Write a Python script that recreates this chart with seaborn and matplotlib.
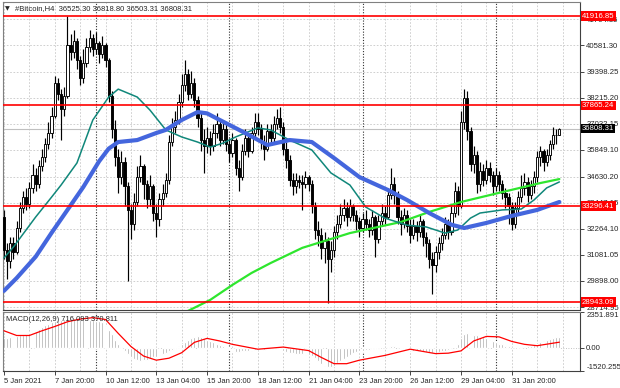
import numpy as np
import pandas as pd
import matplotlib
matplotlib.use('Agg')
import matplotlib.pyplot as plt
import seaborn as sns

# --- datos de las velas (H4, indice 0 = 5 Jan 04:00) ---
first_open = 32800
close = [31300, 30800, 31600, 31200, 32300, 33200, 33700, 33400, 34100, 34700,
         34300, 35100, 35500, 36100, 36600, 37400, 38900, 38400, 37700, 38300,
         40600, 40300, 40800, 39900, 39100, 39800, 40500, 40900, 40400, 40700,
         40200, 40600, 39900, 38300, 36800, 35500, 34600, 35300, 34200, 33100,
         32500, 33500, 34600, 35100, 34300, 33600, 34200, 33000, 32700, 33600,
         33900, 34500, 36200, 36900, 37200, 38000, 38800, 39300, 38400, 38900,
         38100, 37300, 36300, 36000, 36400, 36000, 36600, 37000, 36300, 36800,
         36100, 35700, 36300, 35000, 34600, 35800, 36400, 35800, 36600, 37100,
         36800, 36200, 35900, 36700, 36400, 37000, 37300, 36900, 35900, 35400,
         34500, 34200, 34500, 34400, 34300, 34600, 34300, 33300, 32200, 32000,
         31400, 31700, 30900, 31300, 32100, 32500, 32900, 33200, 32800, 33300,
         32900, 32600, 32300, 32700, 32500, 32200, 32800, 31800, 32600, 33000,
         32800, 33800, 34300, 33800, 32800, 32500, 32900, 32400, 32000, 32400,
         32100, 32600, 31900, 31600, 30900, 30600, 31200, 31600, 32000, 32500,
         32100, 33000, 34000, 33300, 37100, 38200, 36700, 35200, 35600, 34300,
         34900, 34500, 35000, 34700, 34200, 34700, 34300, 33900, 33700, 33300,
         32500, 33200, 33700, 34100, 34400, 33800, 34200, 34600, 35500, 35800,
         35300, 35600, 36100, 36500, 36525.30, 36808.31]
high = [33100, 31600, 31900, 31900, 32600, 33500, 34000, 34100, 34400, 35200,
        35000, 35400, 35900, 36400, 37100, 37800, 39200, 39100, 38600, 38700,
        41900, 41100, 41300, 40900, 40100, 40400, 40900, 41300, 41100, 41200,
        40800, 41000, 40700, 40000, 38500, 37200, 35900, 35800, 35500, 34400,
        33400, 33900, 35100, 35600, 35200, 34500, 34700, 34300, 33400, 33900,
        34300, 34800, 36500, 37300, 37600, 38400, 39300, 39900, 39500, 39400,
        39100, 38300, 37500, 36800, 36900, 36700, 37000, 37500, 37200, 37200,
        37000, 36400, 36600, 36400, 35400, 36100, 36800, 36600, 36900, 37500,
        37500, 37000, 36500, 37000, 37000, 37400, 37700, 37800, 37100, 36200,
        35600, 34800, 34800, 34700, 34700, 34900, 34700, 34500, 33500, 32600,
        32300, 32100, 31900, 31700, 32400, 32900, 33400, 33600, 33500, 33600,
        33400, 33100, 32800, 33000, 33100, 32700, 33100, 32900, 32900, 33400,
        33300, 34100, 35000, 34600, 34000, 33100, 33200, 33100, 32700, 32700,
        32600, 32900, 32700, 32100, 31800, 31200, 31500, 31900, 32300, 32800,
        32700, 33300, 34400, 34200, 37600, 38600, 38500, 36900, 36000, 35800,
        35300, 35200, 35400, 35300, 34900, 35000, 34900, 34500, 34100, 33900,
        33500, 33500, 34000, 34700, 34800, 34600, 34500, 34900, 35800, 36000,
        35900, 35900, 36300, 36900, 36800, 36818.80]
low = [30900, 30000, 30500, 30900, 31100, 32100, 33000, 33100, 33200, 33900,
       34000, 34100, 34900, 35300, 35900, 36400, 37300, 38100, 36300, 37400,
       38200, 39900, 40000, 39500, 38800, 38900, 39600, 40300, 40100, 40200,
       39800, 40000, 39600, 38000, 36400, 35100, 33900, 34300, 33300, 29900,
       31800, 32200, 33300, 34400, 33600, 33200, 33300, 32600, 31900, 32400,
       33300, 33700, 34300, 36000, 36600, 37000, 37800, 38500, 38100, 38200,
       37800, 36900, 35800, 34800, 35700, 35600, 35800, 36400, 36000, 36100,
       35800, 35300, 35500, 34700, 34000, 34500, 35600, 35500, 35700, 36400,
       36500, 35900, 35400, 35800, 36100, 36200, 36800, 36600, 35600, 35000,
       34200, 33800, 33900, 34100, 33100, 34100, 34000, 33000, 31800, 31500,
       30900, 30700, 28900, 30300, 31000, 31800, 32300, 32600, 32400, 32600,
       32600, 32200, 31900, 32100, 32200, 31900, 32000, 31000, 31600, 32400,
       32500, 32700, 33600, 33400, 32500, 32000, 32300, 32100, 31600, 31800,
       31700, 31900, 31500, 31000, 30500, 29300, 30300, 30900, 31300, 31800,
       31800, 32000, 32800, 32900, 33200, 36800, 36300, 34900, 34800, 33900,
       34000, 34200, 34300, 34400, 33800, 34000, 34000, 33600, 33200, 32500,
       32200, 32300, 33000, 33500, 33800, 33500, 33600, 33900, 34400, 35100,
       34900, 35100, 35400, 35900, 36100, 36503.31]

# medias moviles
ma_blue_idx = [0, 4, 10, 15, 20, 25, 30, 33, 36, 42, 48, 51, 56, 61, 64, 68, 76,
               83, 90, 97, 104, 112, 121, 127, 134, 141, 145, 152, 160, 168, 175]
ma_blue = [29450, 30030, 31000, 32080, 33120, 34160, 35330, 35900, 36200, 36290,
           36610, 36750, 37200, 37560, 37500, 37200, 36610, 36065, 36290, 36200,
           35475, 34610, 34024, 33571, 32980, 32450, 32300, 32530, 32850, 33120,
           33480]
ma_teal_idx = [0, 3, 10, 15, 18, 23, 28, 33, 36, 42, 46, 51, 56, 61, 65, 69, 73,
               80, 84, 90, 97, 103, 109, 114, 120, 127, 133, 139, 143, 147, 150,
               157, 163, 167, 171, 175]
ma_teal = [30940, 31440, 32800, 33700, 34250, 35250, 37200, 38240, 38600, 38240,
           37650, 36750, 36430, 36200, 35970, 36150, 36430, 36840, 36750, 36290,
           35840, 34800, 34250, 33250, 32750, 32430, 32350, 32070, 32210, 32750,
           32980, 33120, 33160, 33570, 34120, 34390]
ma_green_idx = [58, 65, 72, 78, 84, 94, 109, 125, 134, 144, 157, 169, 175]
ma_green = [28540, 29040, 29720, 30260, 30710, 31400, 32070, 32570, 33030, 33480,
            33930, 34340, 34520]

# MACD
macd_main = [630, 630, 680, 720, 770, 810, 860, 900, 950, 990,
             1130, 1260, 1350, 1490, 1580, 1670, 1760, 1800, 1850, 1890,
             1940, 1980, 1980, 1940, 1980, 1940, 1890, 1850, 1800, 1760,
             1760, 1670, 1440, 1170, 900, 540, 270, 50, -180, -400,
             -590, -720, -810, -860, -810, -770, -720, -630, -590, -500,
             -400, -320, -230, -140, -50, 90, 230, 360, 500, 630,
             720, 770, 720, 630, 540, 450, 360, 270, 180, 90,
             0, -90, -180, -270, -270, -230, -230, -180, -180, -140,
             -90, -90, -140, -90, -90, -50, -50, -90, -180, -270,
             -320, -360, -400, -400, -400, -450, -450, -540, -680, -860,
             -1040, -1170, -1260, -1260, -1170, -990, -860, -720, -590, -450,
             -360, -270, -230, -180, -140, -140, -90, -90, -50, 0,
             0, 50, 90, 90, 50, 0, -50, -90, -140, -180,
             -180, -230, -270, -270, -320, -360, -320, -270, -230, -180,
             -140, -90, 0, 270, 630, 900, 950, 900, 860, 810,
             720, 680, 630, 540, 450, 360, 270, 230, 140, 90,
             0, 0, 0, 50, 50, 90, 90, 180, 270, 360,
             430, 500, 560, 620, 680, 716]
signal_idx = [0, 4, 8, 12, 16, 20, 24, 28, 32, 36, 40, 44, 48, 52, 56, 60, 64, 68,
              72, 80, 88, 96, 100, 104, 108, 112, 120, 128, 136, 140, 144, 148,
              152, 156, 160, 164, 168, 175]
signal = [1120, 810, 810, 1120, 1400, 1710, 1890, 1980, 1860, 950, 90, -540, -810,
          -680, -320, 360, 620, 450, 230, -90, 50, -180, -630, -1040, -1040, -810,
          -500, -90, -380, -350, -200, 450, 750, 720, 420, 230, 140, 371]

levels = [41916.85, 37865.24, 33296.41, 28943.09]
last_price = 36808.31
price_ticks = [28714.95, 29898.00, 31081.05, 32264.10, 33447.15, 34630.20,
               35849.10, 37032.15, 38215.20, 39398.25, 40581.30, 41764.35]
date_idx = [0, 16, 32, 48, 64, 80, 96, 112, 128, 144, 160]
date_labels = ['5 Jan 2021', '7 Jan 20:00', '10 Jan 12:00', '13 Jan 04:00',
               '15 Jan 20:00', '18 Jan 12:00', '21 Jan 04:00', '23 Jan 20:00',
               '26 Jan 12:00', '29 Jan 04:00', '31 Jan 20:00']
week_idx = [29, 71, 113, 155]
macd_ticks = [2351.891, 0, -1520.255]
macd_labels = ['2351.891', '0.00', '-1520.255']

sns.set_style('white')
plt.rcParams['font.family'] = ['Liberation Sans', 'DejaVu Sans']
fs = 5.5      # textos generales
fs_r = 5.6    # etiquetas de precio a la derecha

df = pd.DataFrame({'close': close, 'high': high, 'low': low})
df['idx'] = np.arange(len(df))
df['open'] = [first_open] + close[:-1]

fig = plt.figure(figsize=(6.2, 3.88), dpi=100)
ax1 = fig.add_axes([3 / 620, 1 - 310 / 388, 577 / 620, 308 / 388])
ax2 = fig.add_axes([3 / 620, 1 - 371 / 388, 577 / 620, 59 / 388])

xmin, xmax = -0.3, 181.5
grid_kw = dict(color='#c8c8c8', lw=0.6, ls=(0, (2, 2)), zorder=0)
sep_kw = dict(color='#303030', lw=0.8, ls=(0, (1, 1.5)), zorder=0.5)

# --- panel principal ---
for t in price_ticks:
    ax1.axhline(t, **grid_kw)
for ax in (ax1, ax2):
    for v in range(0, 182, 8):
        ax.axvline(v, **grid_kw)
    for w in week_idx:
        ax.axvline(w, **sep_kw)

ax1.axhline(last_price, color='#c0c0c0', lw=0.8, zorder=1)

ax1.vlines(df['idx'], df['low'], df['high'], color='black', lw=0.85, zorder=2)
bull = df[df['close'] >= df['open']]
bear = df[df['close'] < df['open']]
ax1.bar(bull['idx'], (bull['close'] - bull['open']).clip(lower=40), bottom=bull['open'],
        width=0.7, color='white', edgecolor='black', lw=0.65, zorder=3)
ax1.bar(bear['idx'], (bear['open'] - bear['close']).clip(lower=40), bottom=bear['close'],
        width=0.7, color='black', edgecolor='black', lw=0.65, zorder=3)

sns.lineplot(x=ma_green_idx, y=ma_green, ax=ax1, color='#2ee62e', lw=1.6, zorder=4)
sns.lineplot(x=ma_teal_idx, y=ma_teal, ax=ax1, color='#10877a', lw=1.1, zorder=4)
sns.lineplot(x=ma_blue_idx, y=ma_blue, ax=ax1, color='#4466dd', lw=3.0, zorder=4)

for lv in levels:
    ax1.axhline(lv, color='red', lw=1.2, zorder=5)

ax1.set_xlim(xmin, xmax)
ax1.set_ylim(28581, 42552)
ax1.yaxis.tick_right()
ax1.set_yticks(price_ticks)
ax1.set_yticklabels([f'{t:.2f}' for t in price_ticks])
ax1.tick_params(axis='y', right=True, length=3, width=0.6, pad=1.5, labelsize=fs_r)
ax1.set_xticks([])
ax1.set_xlabel('')
ax1.set_ylabel('')

box_kw = dict(transform=ax1.get_yaxis_transform(), color='white', fontsize=fs_r,
              va='center', ha='left', zorder=10, clip_on=False)
for lv in levels:
    ax1.text(1.0035, lv, f'{lv:.2f}',
             bbox=dict(boxstyle='square,pad=0.15', fc='red', ec='none'), **box_kw)
ax1.text(1.0035, last_price, f'{last_price:.2f}',
         bbox=dict(boxstyle='square,pad=0.15', fc='black', ec='none'), **box_kw)

ax1.text(0.004, 0.985, '\u25bc', transform=ax1.transAxes, fontsize=4.5,
         va='top', ha='left', family=['DejaVu Sans'])
ax1.text(0.021, 0.99, '#Bitcoin,H4  36525.30 36818.80 36503.31 36808.31',
         transform=ax1.transAxes, fontsize=fs, va='top', ha='left')

# --- panel MACD ---
ax2.axhline(0, color='#b0b0b0', lw=0.6, ls=(0, (1, 2)), zorder=1)
ax2.bar(df['idx'], macd_main, width=0.6, color='#a0a0a0', zorder=2)
sns.lineplot(x=signal_idx, y=signal, ax=ax2, color='red', lw=0.9, zorder=3)
ax2.set_xlim(xmin, xmax)
ax2.set_ylim(-1520.255, 2351.891)
ax2.yaxis.tick_right()
ax2.set_yticks(macd_ticks)
ax2.set_yticklabels(macd_labels)
ax2.tick_params(axis='y', right=True, length=3, width=0.6, pad=1.5, labelsize=fs_r)
lbls = ax2.get_yticklabels()
lbls[0].set_va('top')
lbls[2].set_va('bottom')
ax2.set_xticks(date_idx)
ax2.set_xticklabels(date_labels, ha='left')
ax2.tick_params(axis='x', bottom=True, length=3, width=0.6, pad=2, labelsize=fs)
ax2.set_xlabel('')
ax2.set_ylabel('')
ax2.text(0.006, 0.93, 'MACD(12,26,9) 716.093 370.811', transform=ax2.transAxes,
         fontsize=fs, va='top', ha='left')

for ax in (ax1, ax2):
    for s in ax.spines.values():
        s.set_color('#808080')
        s.set_linewidth(0.8)
    ax.spines['right'].set_color('#404040')
    ax.spines['bottom'].set_color('#404040')

fig.savefig('out.png', dpi=100)
